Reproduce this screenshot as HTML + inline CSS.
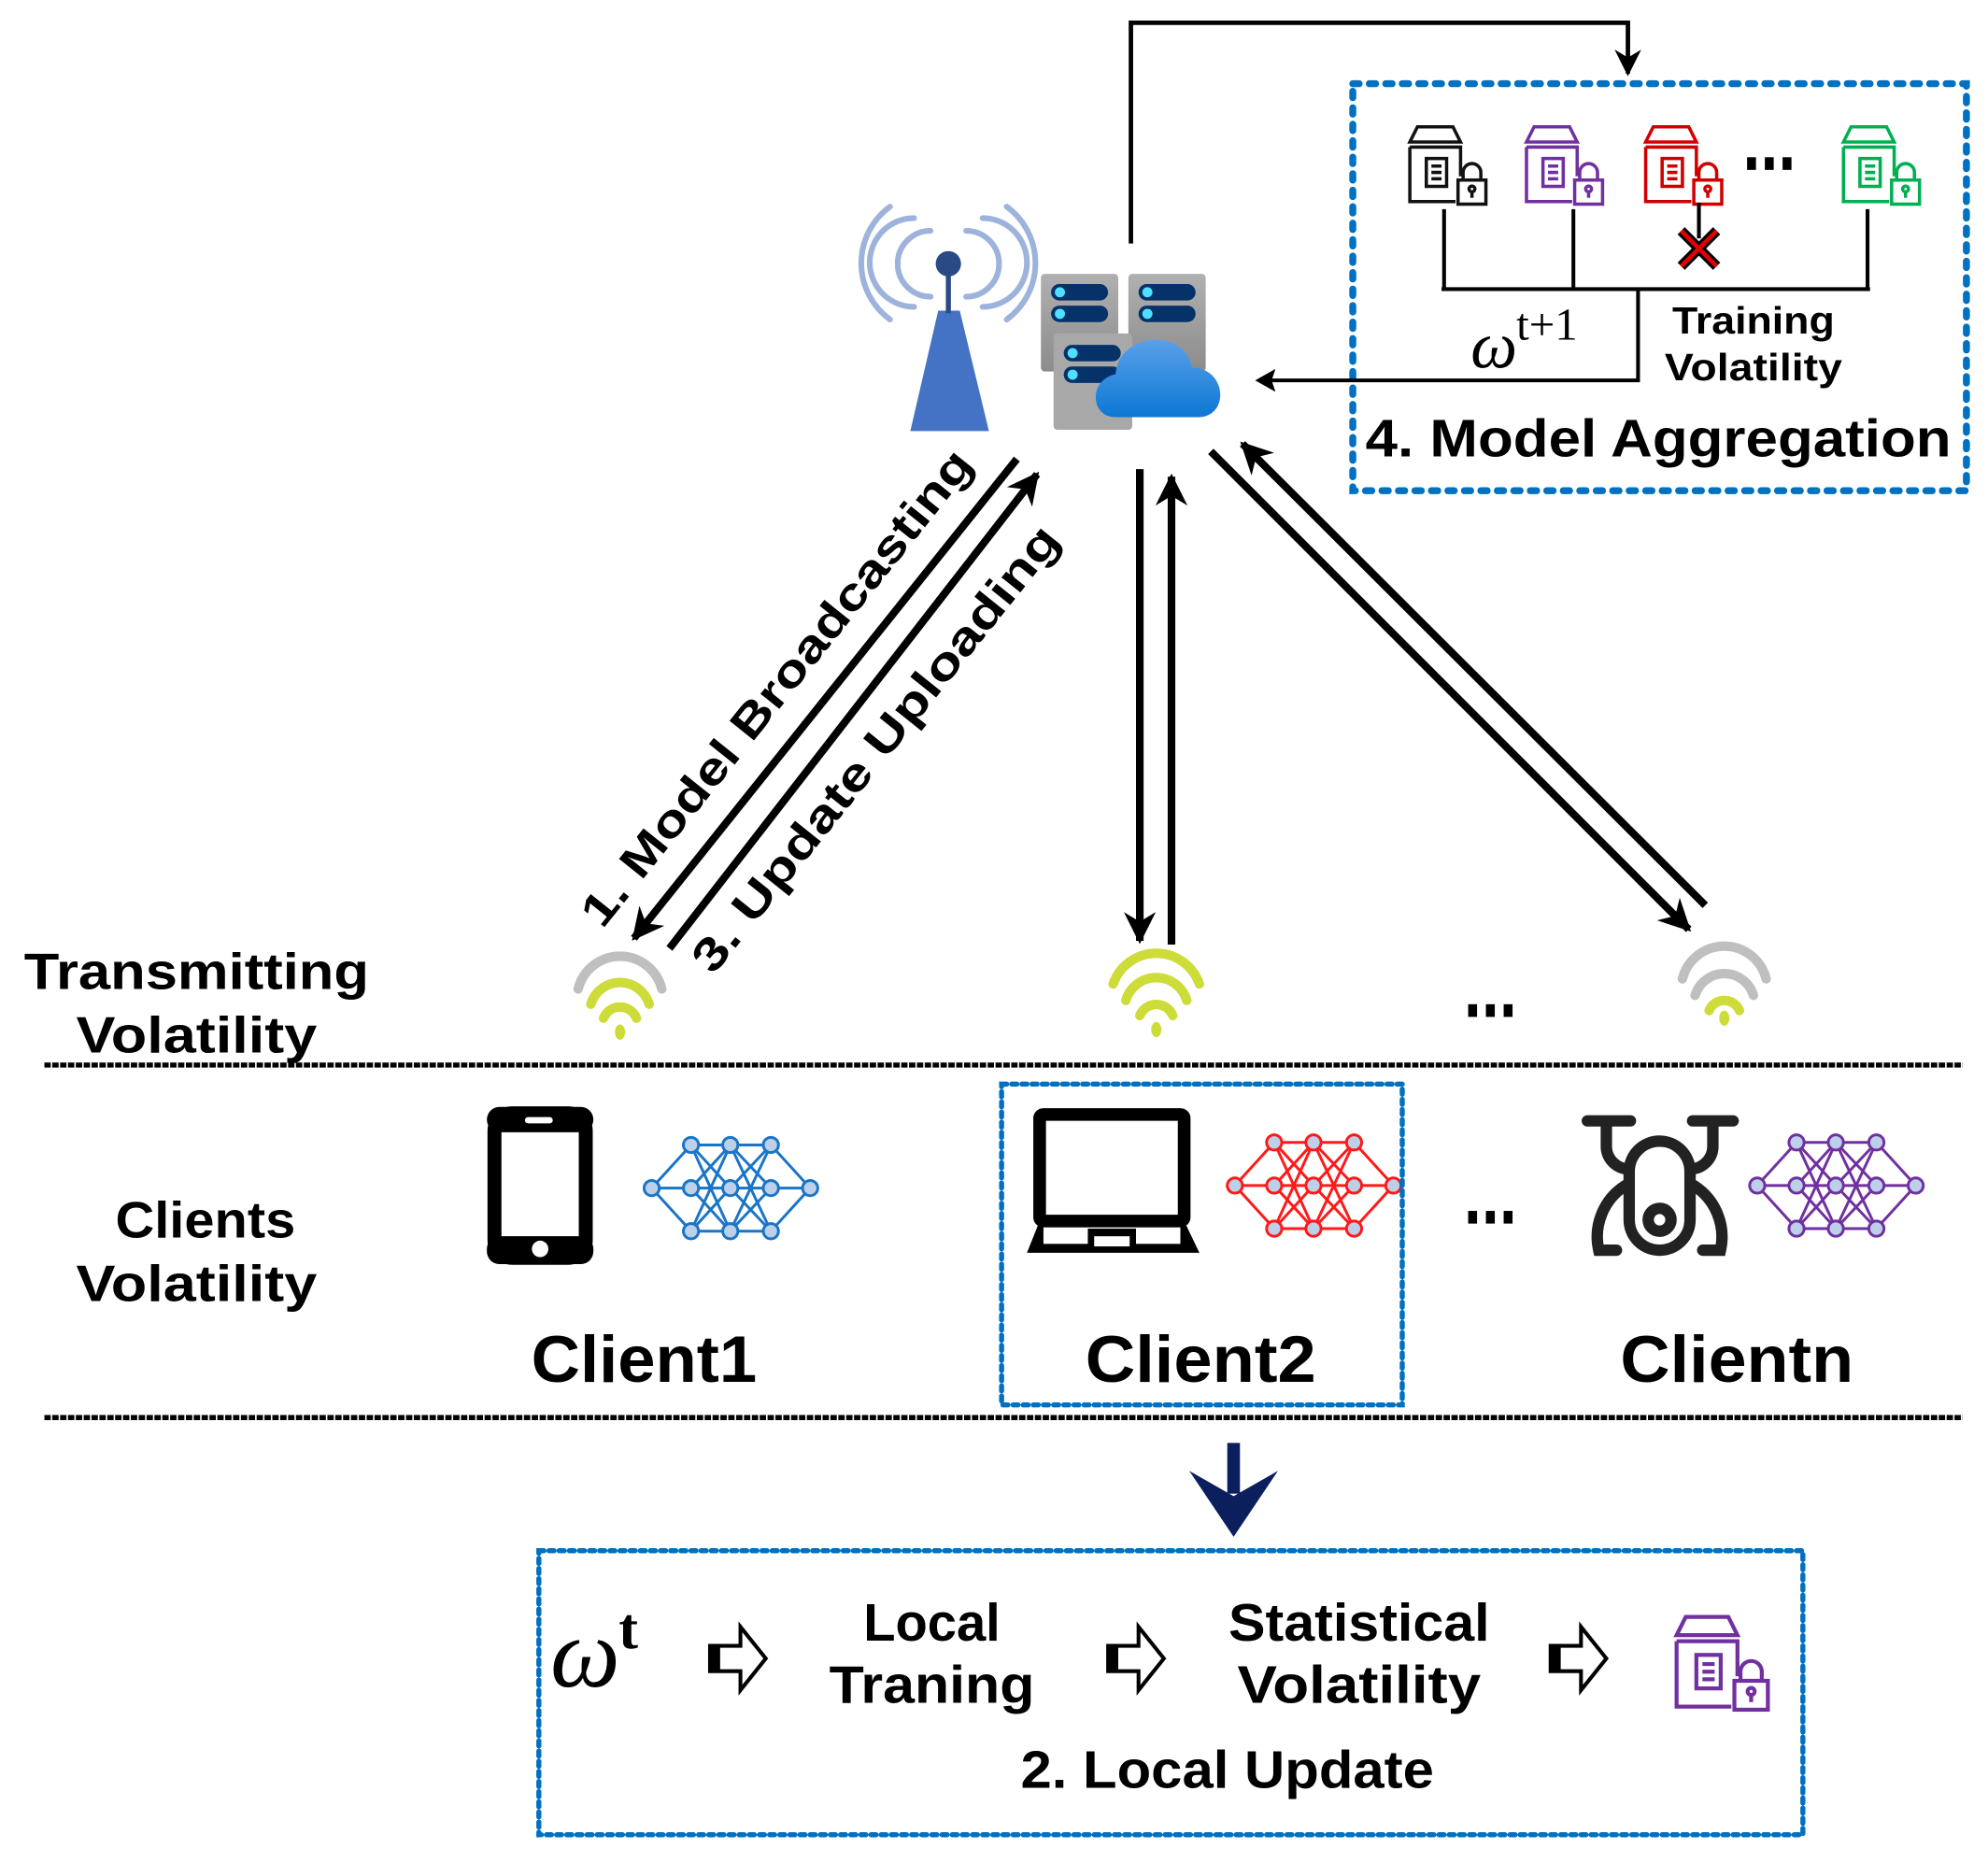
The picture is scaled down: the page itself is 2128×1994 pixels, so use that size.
<!DOCTYPE html>
<html><head><meta charset="utf-8"><style>
html,body{margin:0;padding:0;background:#fff}
svg{display:block}
text{font-family:"Liberation Sans",sans-serif;font-weight:bold;fill:#000}
text.om{font-family:"Liberation Serif",serif;font-style:italic;font-weight:normal}
text.sup{font-family:"Liberation Serif",serif;font-weight:normal}
</style></head><body>
<svg width="2128" height="1994" viewBox="0 0 1568 1469.3" xmlns="http://www.w3.org/2000/svg">
<defs>
<marker id="ah" viewBox="0 0 10 10" refX="9" refY="5" markerWidth="4.2" markerHeight="4.2" orient="auto-start-reverse" markerUnits="strokeWidth"><path d="M0,0 L10,5 L0,10 L3,5 z" fill="#000"/></marker>
<marker id="ahs" viewBox="0 0 10 10" refX="9" refY="5" markerWidth="6" markerHeight="6" orient="auto" markerUnits="strokeWidth"><path d="M0,0 L10,5 L0,10 L3,5 z" fill="#000"/></marker>
<g id="doc" fill="none" stroke-width="2.6">
<path d="M8,1 H36 L42,13 H2 Z"/>
<path d="M2,17 H42 V40 M2,17 V60 H38"/>
<rect x="15" y="26" width="16" height="22"/>
<path d="M19,32 H27 M19,37 H27 M19,42 H27"/>
<rect x="40" y="43" width="22" height="19"/>
<path d="M44,43 V37 A7,7 0 0 1 58,37 V43"/>
<circle cx="51" cy="50" r="2.3"/><path d="M51,52 V57"/>
</g>
<g id="net" stroke-width="2.2">
<g fill="none">
<path d="M0,0 L31,-34 M0,0 L31,0 M0,0 L31,34 M125,0 L94,-34 M125,0 L94,0 M125,0 L94,34"/>
<path d="M31,-34 L62,-34 M31,-34 L62,0 M31,-34 L62,34 M31,0 L62,-34 M31,0 L62,0 M31,0 L62,34 M31,34 L62,-34 M31,34 L62,0 M31,34 L62,34"/>
<path d="M62,-34 L94,-34 M62,-34 L94,0 M62,-34 L94,34 M62,0 L94,-34 M62,0 L94,0 M62,0 L94,34 M62,34 L94,-34 M62,34 L94,0 M62,34 L94,34"/>
</g>
<g fill="#bcd0ea">
<circle cx="0" cy="0" r="6"/><circle cx="125" cy="0" r="6"/>
<circle cx="31" cy="-34" r="6"/><circle cx="31" cy="0" r="6"/><circle cx="31" cy="34" r="6"/>
<circle cx="62" cy="-34" r="6"/><circle cx="62" cy="0" r="6"/><circle cx="62" cy="34" r="6"/>
<circle cx="94" cy="-34" r="6"/><circle cx="94" cy="0" r="6"/><circle cx="94" cy="34" r="6"/>
</g>
</g>
<g id="hollow">
<path d="M0,-10 H24 V-25 L44,0 L24,25 V10 H0 Z" fill="#fff" stroke="#000" stroke-width="3"/>
<rect x="0" y="-11" width="8" height="22" fill="#000"/>
</g>
<g id="dots" fill="#000"><rect x="0" y="0" width="7" height="10"/><rect x="14" y="0" width="7" height="10"/><rect x="28" y="0" width="7" height="10"/></g>
<linearGradient id="cg" x1="0" y1="0" x2="0" y2="1"><stop offset="0" stop-color="#5aa0ea"/><stop offset="1" stop-color="#0c78d4"/></linearGradient>
<linearGradient id="sg" x1="0" y1="0" x2="0" y2="1"><stop offset="0" stop-color="#b0b0b0"/><stop offset="1" stop-color="#8c8c8c"/></linearGradient>
</defs>

<path d="M892,192 V18 H1284 V58" fill="none" stroke="#000" stroke-width="3.5" marker-end="url(#ahs)"/>

<rect x="1067" y="66" width="484" height="321" fill="none" stroke="#0070C0" stroke-width="5.5" stroke-dasharray="5 8" stroke-linecap="round"/>
<use href="#doc" x="1110" y="99" stroke="#111"/>
<use href="#doc" x="1202" y="99" stroke="#7030A0"/>
<use href="#doc" x="1296" y="99" stroke="#d00000"/>
<use href="#doc" x="1452" y="99" stroke="#00b050"/>
<use href="#dots" x="1378" y="124"/>
<path d="M1139,165 V228 M1241,165 V228 M1473,165 V228 M1137,228 H1475 M1292,228 V300 H995 M1340,160 V188" fill="none" stroke="#000" stroke-width="3"/>
<path d="M990,300 L1006,291 L1003,300 L1006,309 Z" fill="#000"/>
<path d="M1326,182 L1354,210 M1354,182 L1326,210" stroke="#000" stroke-width="8"/>
<path d="M1326,182 L1354,210 M1354,182 L1326,210" stroke="#e00000" stroke-width="3.5"/>
<text class="om" x="1160" y="290" font-size="52">ω</text>
<text class="sup" x="1196" y="268" font-size="36">t+1</text>
<text x="1383" y="263" font-size="30" text-anchor="middle" textLength="128" lengthAdjust="spacingAndGlyphs">Training</text>
<text x="1383" y="300" font-size="30" text-anchor="middle" textLength="140" lengthAdjust="spacingAndGlyphs">Volatility</text>
<text x="1308" y="360" font-size="42" text-anchor="middle" textLength="462" lengthAdjust="spacingAndGlyphs">4. Model Aggregation</text>

<g fill="none" stroke="#9db3dc" stroke-width="4.5" stroke-linecap="round">
<path d="M734,182 A20,20 0 0 0 734,234 M762,182 A20,20 0 0 1 762,234"/>
<path d="M721,172 A35,35 0 0 0 721,242 M775,172 A35,35 0 0 1 775,242"/>
<path d="M702,163 A55,55 0 0 0 702,252 M794,163 A55,55 0 0 1 794,252"/>
</g>
<path d="M740,245 H757 L780,340 H718 Z" fill="#4472c4"/>
<rect x="746" y="212" width="4" height="35" fill="#2a4a85"/>
<circle cx="748" cy="208" r="10" fill="#2a4a85"/>

<rect x="821" y="216" width="61" height="77" rx="3" fill="url(#sg)"/>
<rect x="890" y="216" width="61" height="77" rx="3" fill="url(#sg)"/>
<g fill="#06326a"><rect x="829" y="224" width="45" height="13" rx="6.5"/><rect x="829" y="241" width="45" height="13" rx="6.5"/><rect x="898" y="224" width="45" height="13" rx="6.5"/><rect x="898" y="241" width="45" height="13" rx="6.5"/></g>
<g fill="#50e0ff"><circle cx="836" cy="230.5" r="4"/><circle cx="836" cy="247.5" r="4"/><circle cx="905" cy="230.5" r="4"/><circle cx="905" cy="247.5" r="4"/></g>
<rect x="831" y="263" width="62" height="76" rx="3" fill="#a8a8a8"/>
<g fill="#06326a"><rect x="839" y="272" width="45" height="13" rx="6.5"/><rect x="839" y="289" width="45" height="13" rx="6.5"/></g>
<g fill="#50e0ff"><circle cx="846" cy="278.5" r="4"/><circle cx="846" cy="295.5" r="4"/></g>
<path d="M880,329 C860,329 858,300 880,295 C882,262 935,258 940,290 C968,290 970,329 945,329 Z" fill="url(#cg)"/>

<g stroke="#000" stroke-width="6" fill="none">
<line x1="802" y1="362" x2="500" y2="740" marker-end="url(#ah)"/>
<line x1="528" y1="748" x2="818" y2="374" marker-end="url(#ah)"/>
<line x1="899" y1="370" x2="899" y2="742" marker-end="url(#ah)"/>
<line x1="924" y1="745" x2="924" y2="376" marker-end="url(#ah)"/>
<line x1="955" y1="356" x2="1332" y2="733" marker-end="url(#ah)"/>
<line x1="1345" y1="714" x2="980" y2="350" marker-end="url(#ah)"/>
</g>
<text transform="translate(622,550) rotate(-51.3)" font-size="36" text-anchor="middle" textLength="470" lengthAdjust="spacingAndGlyphs">1. Model Broadcasting</text>
<text transform="translate(700,598) rotate(-51.3)" font-size="36" text-anchor="middle" textLength="440" lengthAdjust="spacingAndGlyphs">3. Update Uploading</text>

<g fill="none" stroke-width="7.5" stroke-linecap="round">
<path d="M456,780 A34,34 0 0 1 522,780" stroke="#bfbfbf"/>
<path d="M466,792 A24,24 0 0 1 512,792" stroke="#cddc39"/>
<path d="M476,803 A14,14 0 0 1 502,803" stroke="#cddc39"/>
<path d="M878,776 A36,36 0 0 1 946,776" stroke="#cddc39"/>
<path d="M888,789 A25,25 0 0 1 936,789" stroke="#cddc39"/>
<path d="M899,801 A14,14 0 0 1 925,801" stroke="#cddc39"/>
<path d="M1327,772 A34,34 0 0 1 1393,772" stroke="#bfbfbf"/>
<path d="M1337,785 A24,24 0 0 1 1383,785" stroke="#bfbfbf"/>
<path d="M1348,797 A13,13 0 0 1 1372,797" stroke="#cddc39"/>
</g>
<g fill="#cddc39"><ellipse cx="489" cy="814" rx="4" ry="6"/><ellipse cx="912" cy="812" rx="4" ry="6"/><ellipse cx="1360" cy="803" rx="4" ry="6"/></g>
<use href="#dots" x="1158" y="792"/>

<text x="155" y="780" font-size="40" text-anchor="middle" textLength="272" lengthAdjust="spacingAndGlyphs">Transmitting</text>
<text x="155" y="830" font-size="40" text-anchor="middle" textLength="190" lengthAdjust="spacingAndGlyphs">Volatility</text>

<g stroke="#000" stroke-width="4" stroke-dasharray="5 1.2"><line x1="35" y1="840" x2="1548" y2="840"/><line x1="35" y1="1118" x2="1548" y2="1118"/></g>

<rect x="390" y="878" width="72" height="114" rx="14" fill="none" stroke="#000" stroke-width="11"/>
<rect x="384" y="873" width="84" height="20" rx="10" fill="#000"/>
<rect x="384" y="975" width="84" height="22" rx="10" fill="#000"/>
<rect x="414" y="881" width="22" height="5" rx="2.5" fill="#fff"/>
<circle cx="426" cy="985" r="6.5" fill="#fff"/>
<use href="#net" x="514" y="937" stroke="#1a75c8"/>

<rect x="820" y="879" width="114" height="84" rx="3" fill="none" stroke="#000" stroke-width="10"/>
<path d="M820,963 H934 L946,988 H810 Z" fill="#000"/>
<rect x="823" y="968" width="108" height="13" fill="#fff"/>
<rect x="858" y="969" width="38" height="16" fill="#000"/>
<rect x="863" y="975" width="28" height="8" fill="#fff"/>
<use href="#net" x="974" y="935" stroke="#ff1a1a"/>

<g fill="none" stroke="#222" stroke-width="9" stroke-linecap="round">
<path d="M1252,884 H1286 M1335,884 H1367 M1267,886 V905 A18,18 0 0 0 1285,922 M1351,886 V905 A18,18 0 0 1 1333,922"/>
<rect x="1285" y="900" width="48" height="86" rx="24"/>
<path d="M1282,935 A48,48 0 0 0 1261,986 H1275 M1336,935 A48,48 0 0 1 1357,986 H1343"/>
<circle cx="1309" cy="962" r="9"/>
</g>
<use href="#net" x="1386" y="935" stroke="#7030A0"/>
<use href="#dots" x="1158" y="955"/>

<text x="162" y="976" font-size="40" text-anchor="middle" textLength="142" lengthAdjust="spacingAndGlyphs">Clients</text>
<text x="155" y="1026" font-size="40" text-anchor="middle" textLength="190" lengthAdjust="spacingAndGlyphs">Volatility</text>
<text x="508" y="1090" font-size="52" text-anchor="middle" textLength="178" lengthAdjust="spacingAndGlyphs">Client1</text>
<text x="947" y="1090" font-size="52" text-anchor="middle" textLength="182" lengthAdjust="spacingAndGlyphs">Client2</text>
<text x="1370" y="1090" font-size="52" text-anchor="middle" textLength="184" lengthAdjust="spacingAndGlyphs">Clientn</text>
<rect x="790" y="855" width="316" height="253" fill="none" stroke="#0070C0" stroke-width="4" stroke-dasharray="4 4" stroke-linecap="round"/>

<rect x="968" y="1138" width="10" height="40" fill="#0a1f5c"/>
<path d="M938,1160 L973,1180 L1008,1160 L973,1212 Z" fill="#0a1f5c"/>

<rect x="425" y="1223" width="997" height="224" fill="none" stroke="#0070C0" stroke-width="4" stroke-dasharray="4 4" stroke-linecap="round"/>
<text class="om" x="434" y="1330" font-size="78">ω</text>
<text class="sup" x="488" y="1300" font-size="46" style="font-weight:bold">t</text>
<use href="#hollow" x="560" y="1308"/>
<use href="#hollow" x="874" y="1308"/>
<use href="#hollow" x="1223" y="1308"/>
<text x="735" y="1294" font-size="42" text-anchor="middle" textLength="108" lengthAdjust="spacingAndGlyphs">Local</text>
<text x="735" y="1343" font-size="42" text-anchor="middle" textLength="162" lengthAdjust="spacingAndGlyphs">Traning</text>
<text x="1072" y="1294" font-size="42" text-anchor="middle" textLength="206" lengthAdjust="spacingAndGlyphs">Statistical</text>
<text x="1072" y="1343" font-size="42" text-anchor="middle" textLength="192" lengthAdjust="spacingAndGlyphs">Volatility</text>
<text x="968" y="1410" font-size="42" text-anchor="middle" textLength="326" lengthAdjust="spacingAndGlyphs">2. Local Update</text>
<use href="#doc" transform="translate(1320,1274) scale(1.2)" stroke="#7030A0"/>
</svg>
</body></html>
